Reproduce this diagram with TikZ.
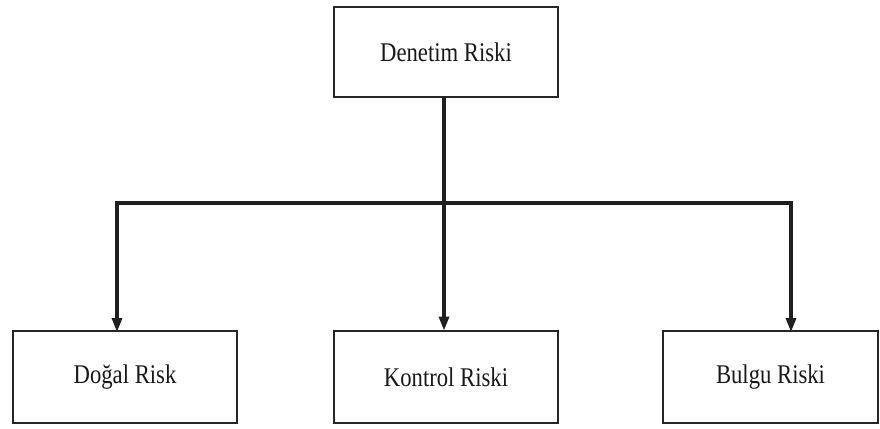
\documentclass[tikz,border=0pt]{standalone}
\usepackage{fontspec}
\setmainfont{Liberation Serif}
\usetikzlibrary{arrows.meta,calc}
\tikzset{
  riskbox/.style={draw=black!85, line width=2.8pt, minimum width=224pt, minimum height=90pt, inner sep=0pt, fill=white,
    font=\fontsize{27}{29}\selectfont, text=black!90},
  conn/.style={draw=black!88, line width=3.2pt},
  arr/.style={conn, -{Triangle[length=14pt,width=10pt]}, shorten >=-1pt}
}
\newcommand{\cond}[1]{\scalebox{0.84}[1]{#1}}
\begin{document}
\begin{tikzpicture}[x=1pt,y=-1pt]
\useasboundingbox (0,0) rectangle (880,428);
\node[riskbox] (top) at (446,52) {\cond{Denetim Riski}};
\node[riskbox, minimum height=92pt] (dogal) at (125,377) {\cond{Doğal Risk}};
\node[riskbox, minimum height=92pt] (kontrol) at (446,377) {\cond{Kontrol Riski}};
\node[riskbox, minimum height=92pt, minimum width=215pt] (bulgu) at (770.5,377) {\cond{Bulgu Riski}};
\coordinate (j) at (444,203);
\coordinate (dl) at (117,331);
\coordinate (br) at (791,331);
\draw[conn] (top.south -| j) -- (j);
\draw[arr] (j) -- (kontrol.north -| j);
\draw[arr] (j) -| (dl);
\draw[arr] (j) -| (br);
\end{tikzpicture}
\end{document}
